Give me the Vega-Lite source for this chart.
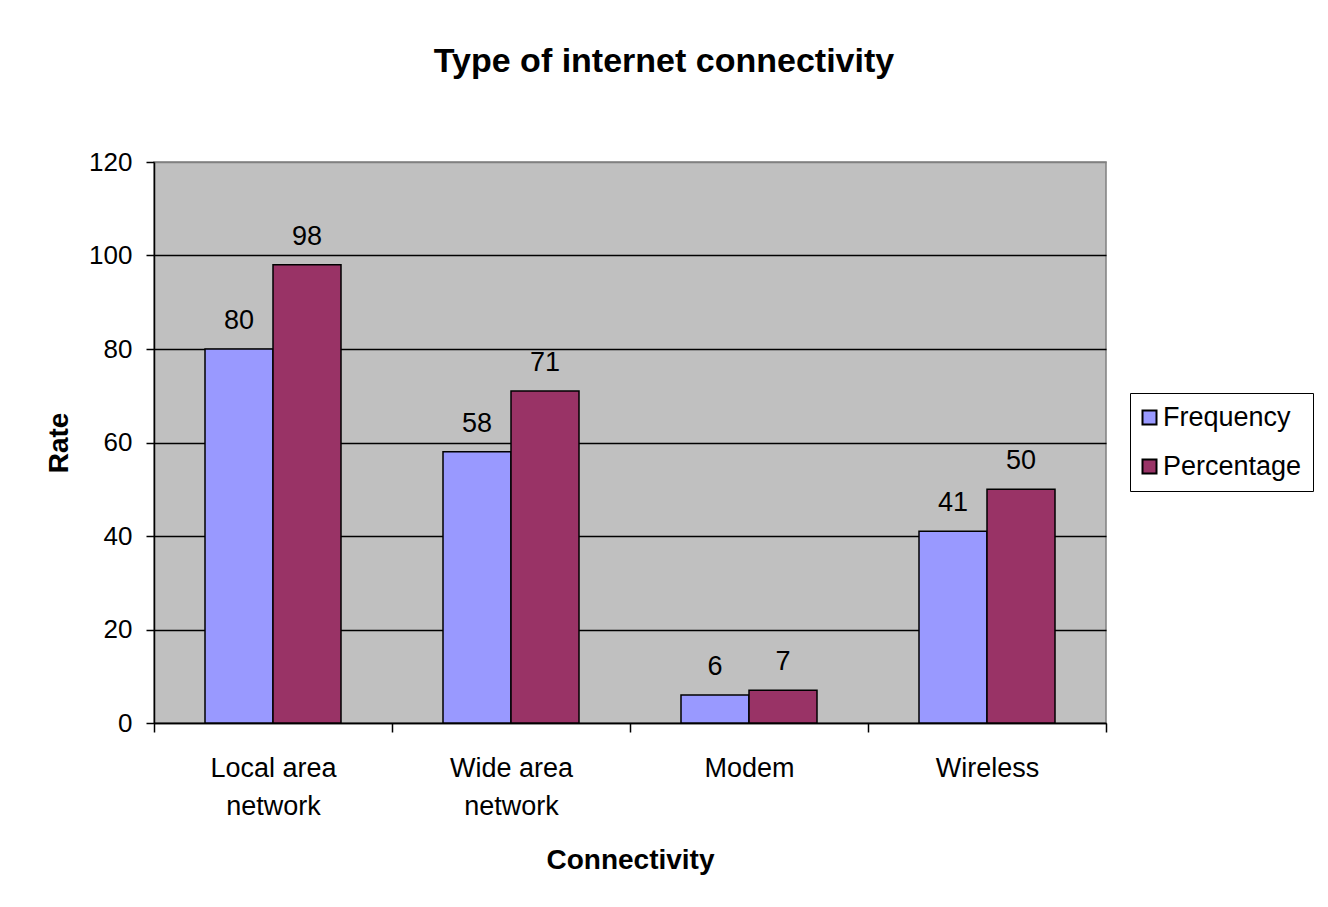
{
  "$schema": "https://vega.github.io/schema/vega-lite/v6.json",
  "autosize": {"type": "none"},
  "padding": {"left": 154, "top": 162, "right": 222, "bottom": 184},
  "width": 952,
  "height": 561,
  "background": "white",
  "config": {
    "font": "Liberation Sans",
    "view": {"fill": "#C0C0C0", "stroke": "#808080", "strokeWidth": 1.5}
  },
  "title": {
    "text": "Type of internet connectivity",
    "fontSize": 34,
    "fontWeight": "bold",
    "color": "black",
    "anchor": "middle",
    "dx": 34,
    "offset": 70
  },
  "data": {
    "values": [
      {"conn": "Local area network", "series": "Frequency", "value": 80},
      {"conn": "Local area network", "series": "Percentage", "value": 98},
      {"conn": "Wide area network", "series": "Frequency", "value": 58},
      {"conn": "Wide area network", "series": "Percentage", "value": 71},
      {"conn": "Modem", "series": "Frequency", "value": 6},
      {"conn": "Modem", "series": "Percentage", "value": 7},
      {"conn": "Wireless", "series": "Frequency", "value": 41},
      {"conn": "Wireless", "series": "Percentage", "value": 50}
    ]
  },
  "encoding": {
    "x": {
      "field": "conn",
      "type": "nominal",
      "sort": null,
      "scale": {"paddingInner": 0, "paddingOuter": 0},
      "axis": {
        "title": "Connectivity",
        "titleFontSize": 28,
        "titleFontWeight": "bold",
        "titleColor": "black",
        "titlePadding": 27,
        "labelFontSize": 27,
        "labelColor": "black",
        "labelAngle": 0,
        "labelPadding": 23,
        "labelLineHeight": 38,
        "labelExpr": "datum.value == 'Local area network' ? ['Local area', 'network'] : datum.value == 'Wide area network' ? ['Wide area', 'network'] : datum.value",
        "tickBand": "extent",
        "tickSize": 9,
        "tickColor": "black",
        "tickWidth": 1.5,
        "domainColor": "black",
        "domainWidth": 1.5,
        "grid": false
      }
    },
    "xOffset": {"field": "series", "type": "nominal", "scale": {"paddingInner": 0, "paddingOuter": 0.75}},
    "y": {
      "field": "value",
      "type": "quantitative",
      "scale": {"domain": [0, 120], "nice": false},
      "axis": {
        "title": "Rate",
        "titleFontSize": 28,
        "titleFontWeight": "bold",
        "titleColor": "black",
        "titlePadding": 15,
        "values": [0, 20, 40, 60, 80, 100, 120],
        "labelFontSize": 26,
        "labelColor": "black",
        "labelPadding": 14,
        "tickSize": 8,
        "tickColor": "black",
        "tickWidth": 1.5,
        "domainColor": "black",
        "domainWidth": 1.5,
        "grid": true,
        "gridColor": {"condition": {"test": "datum.value == 120", "value": "#808080"}, "value": "black"},
        "gridWidth": 1.5,
        "gridOpacity": 1
      }
    }
  },
  "layer": [
    {
      "mark": {"type": "bar", "stroke": "black", "strokeWidth": 1.5},
      "encoding": {
        "color": {
          "field": "series",
          "type": "nominal",
          "scale": {"domain": ["Frequency", "Percentage"], "range": ["#9999FF", "#993366"]},
          "legend": {
            "title": null,
            "orient": "none",
            "legendX": 976,
            "legendY": 231,
            "labelFontSize": 27,
            "labelColor": "black",
            "symbolType": "square",
            "symbolSize": 196,
            "symbolStrokeColor": "black",
            "symbolStrokeWidth": 2,
            "symbolOpacity": 1,
            "symbolOffset": -5,
            "rowPadding": 21,
            "labelOffset": 0,
            "padding": 11,
            "strokeColor": "black",
            "fillColor": "white"
          }
        }
      }
    },
    {
      "mark": {"type": "text", "baseline": "alphabetic", "dy": -20, "fontSize": 27, "color": "black"},
      "encoding": {
        "text": {"field": "value", "type": "quantitative"}
      }
    }
  ]
}
